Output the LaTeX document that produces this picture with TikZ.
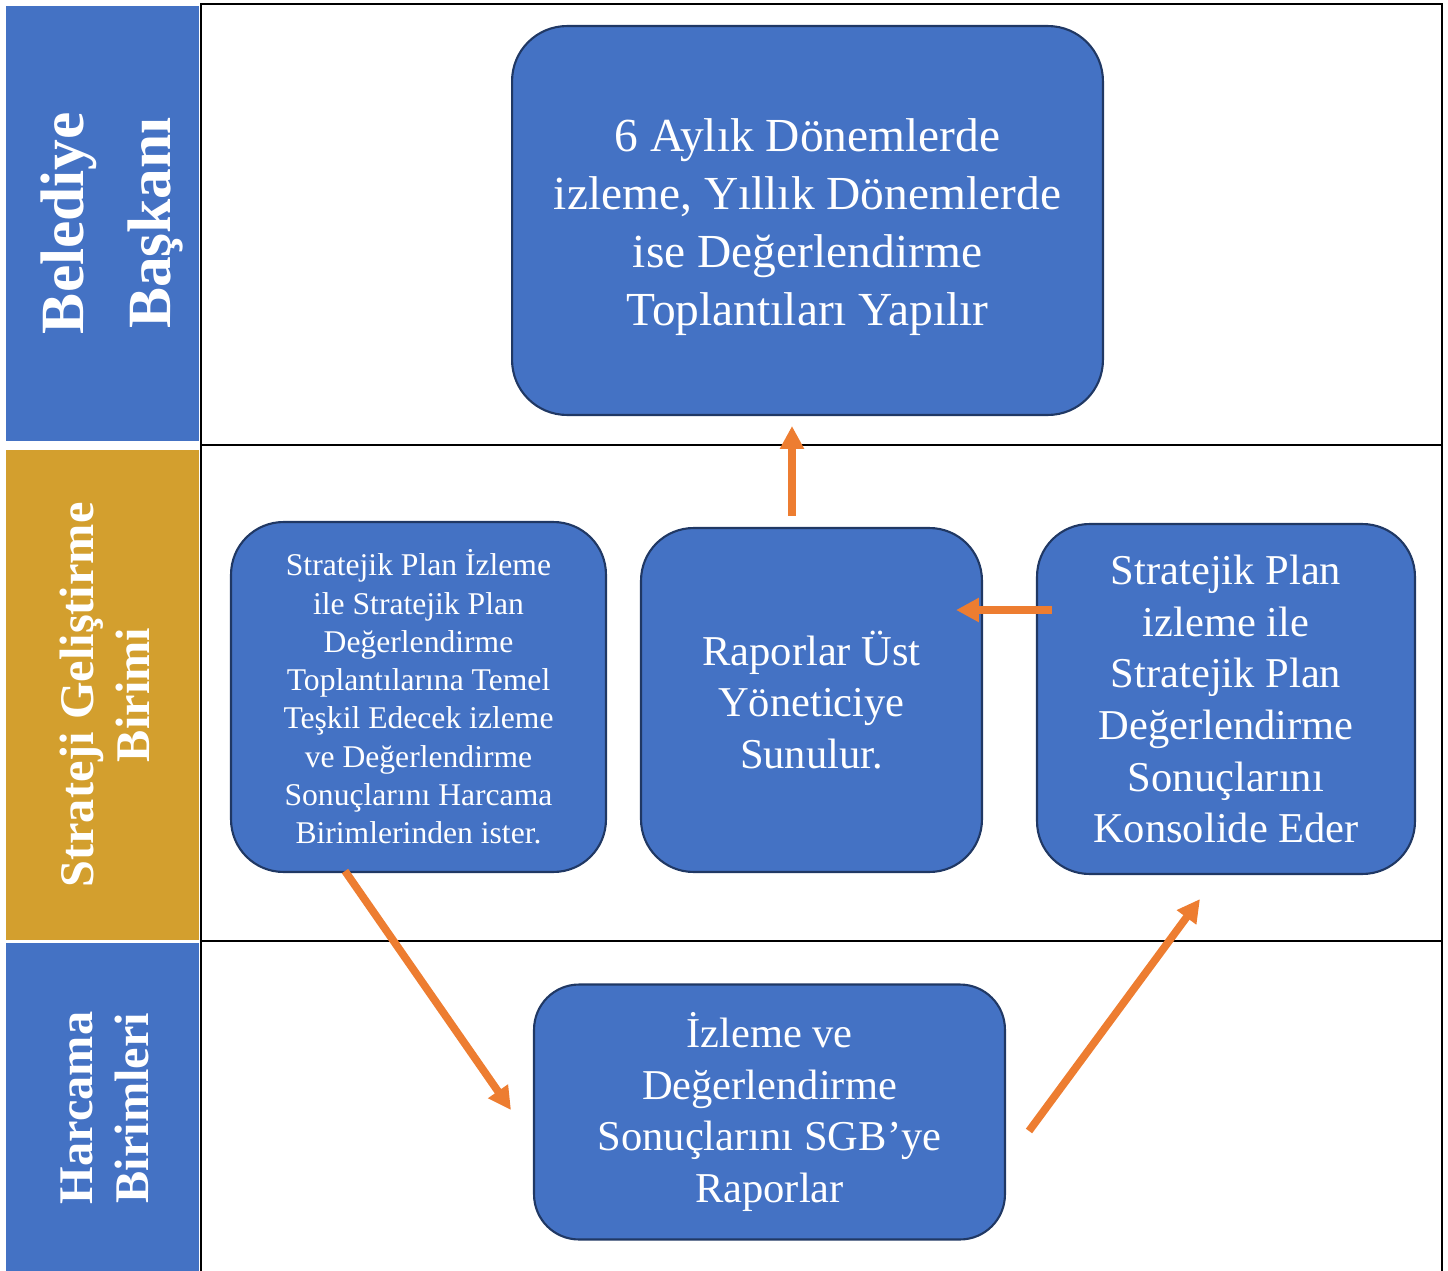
\documentclass[tikz,border=0pt]{standalone}
\usepackage{fontspec}
\setmainfont{Liberation Serif}
\usetikzlibrary{arrows.meta}

\definecolor{kutumavi}{HTML}{4472C4}
\definecolor{kenar}{HTML}{203864}
\definecolor{altin}{HTML}{D39F2E}
\definecolor{turuncu}{HTML}{ED7D31}

\begin{document}
\begin{tikzpicture}[x=0.02cm,y=-0.02cm,
    kutu/.style={draw=kenar,line width=1.2pt,fill=kutumavi,text=white,align=center,inner sep=0pt},
    ok/.style={draw=turuncu,line width=4.4pt,-{Triangle[length=13pt,width=13pt]}},
    serit/.style={text=white,rotate=90,align=center}]

            \useasboundingbox (0,0) rectangle (1448,1271);

            % seritler
            \fill[kutumavi] (6,6) rectangle (199,441);
            \fill[altin] (6,450) rectangle (199,940);
            \fill[kutumavi] (6,943) rectangle (199,1271);

            \node[serit,font=\fontsize{35}{49}\selectfont\bfseries] (baskan) at (112,223) {Belediye\\Başkanı};
            \node[serit,font=\fontsize{27.5}{32}\selectfont\bfseries] (sgb) at (105,695) {Strateji Geliştirme\\Birimi};
            \node[serit,font=\fontsize{27.5}{32}\selectfont\bfseries] (harcama) at (105,1108) {Harcama\\Birimleri};

            % cerceve
            \draw[line width=1.1pt] (201,1271) -- (201,4) -- (1442,4) -- (1442,1271);
            \draw[line width=1.1pt] (201,445) -- (1442,445);
            \draw[line width=1.1pt] (201,941) -- (1442,941);

            % kutular
            \node[kutu,rounded corners=1.1cm,minimum width=11.82cm,minimum height=7.78cm,
                  label={[text=white,align=center,font=\fontsize{27}{33}\selectfont,yshift=-0.14cm]center:{6 Aylık Dönemlerde\\izleme, Yıllık Dönemlerde\\ise Değerlendirme\\Toplantıları Yapılır}}]
                  (toplanti) at (807.5,220.5) {};

            \node[kutu,rounded corners=1.05cm,minimum width=7.5cm,minimum height=7cm,
                  font=\fontsize{18}{21.8}\selectfont] (ister) at (418.5,697)
                  {Stratejik Plan İzleme\\ile Stratejik Plan\\Değerlendirme\\Toplantılarına Temel\\Teşkil Edecek izleme\\ve Değerlendirme\\Sonuçlarını Harcama\\Birimlerinden ister.};

            \node[kutu,rounded corners=1.05cm,minimum width=6.82cm,minimum height=6.88cm,
                  font=\fontsize{24.2}{29.4}\selectfont] (sunum) at (811.5,700)
                  {Raporlar Üst\\Yöneticiye\\Sunulur.};

            \node[kutu,rounded corners=1.05cm,minimum width=7.56cm,minimum height=7cm,
                  font=\fontsize{24.2}{29.4}\selectfont] (konsolide) at (1226,699)
                  {Stratejik Plan\\izleme ile\\Stratejik Plan\\Değerlendirme\\Sonuçlarını\\Konsolide Eder};

            \node[kutu,rounded corners=0.9cm,minimum width=9.42cm,minimum height=5.1cm,
                  font=\fontsize{24.2}{29.4}\selectfont] (rapor) at (769.5,1112)
                  {İzleme ve\\Değerlendirme\\Sonuçlarını SGB’ye\\Raporlar};

            % oklar
            \draw[ok] ([shift={(-73.5,-2)}]ister.south) -- ([shift={(-22,-2)}]rapor.west);
            \draw[ok] ([shift={(23,19)}]rapor.east) -- ([shift={(-26,24)}]konsolide.south);
            \draw[ok] ([shift={(16,-89)}]konsolide.west) -- ([shift={(-27,-90)}]sunum.east);
            \draw[ok] ([shift={(-19.5,-11)}]sunum.north) -- ([shift={(-15.5,10)}]toplanti.south);

        \end{tikzpicture}
\end{document}
